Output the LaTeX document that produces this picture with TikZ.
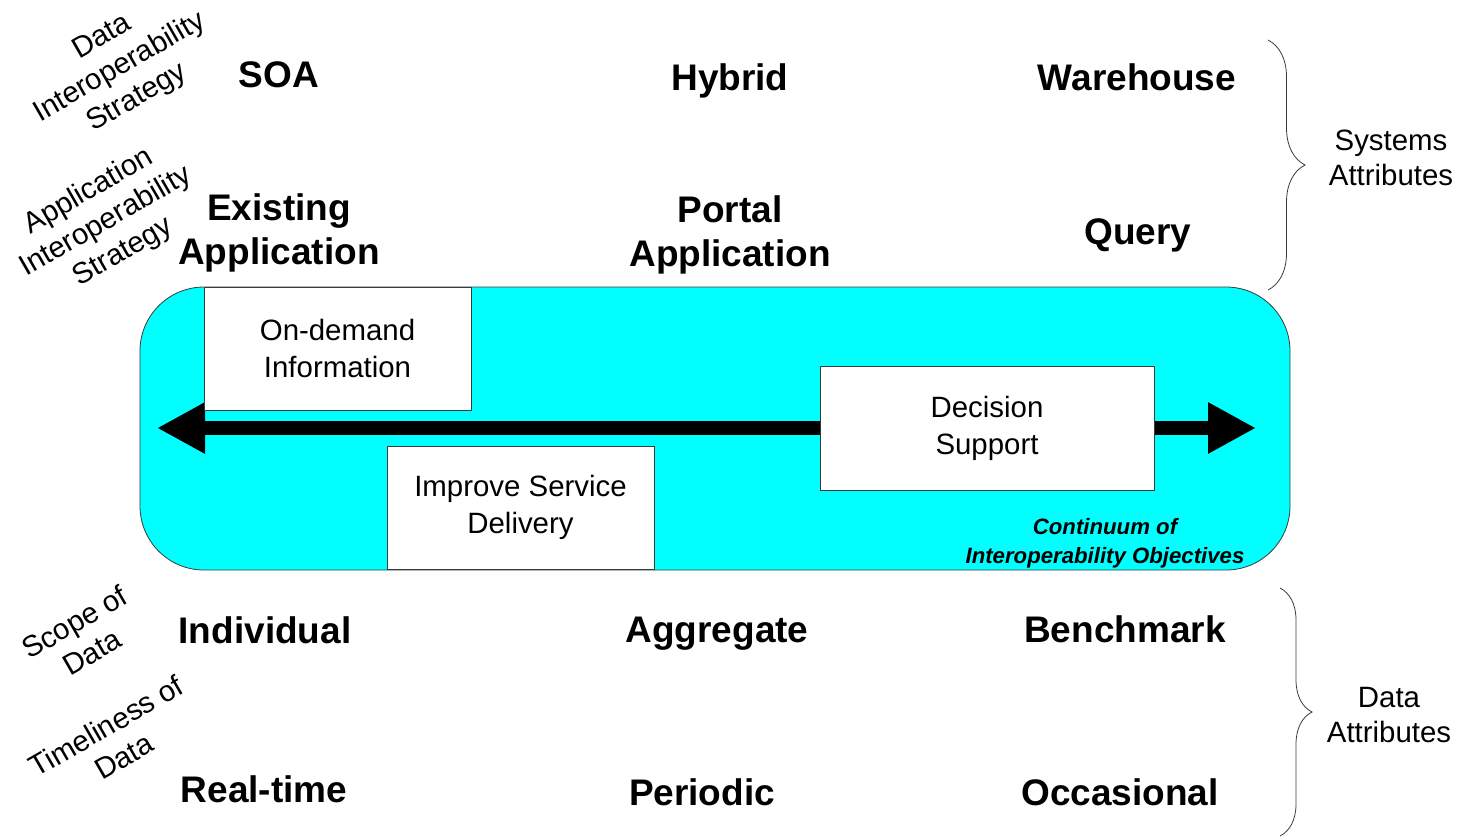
\documentclass[tikz,border=0pt]{standalone}
\usepackage{fontspec}
\setmainfont{Liberation Sans}
\usepackage{tikz}
\usetikzlibrary{arrows.meta,positioning,decorations.pathreplacing}

\definecolor{bandcyan}{HTML}{00FFFF}
\definecolor{edgegray}{HTML}{3A3A3A}

\begin{document}
\begin{tikzpicture}[x=0.5pt, y=-0.5pt,
    attr/.style={align=center, font=\fontsize{18.5}{22}\selectfont\bfseries},
    side/.style={align=center, rotate=30, font=\fontsize{14.7}{17.5}\selectfont},
    objbox/.style={draw=edgegray, fill=white, align=center, font=\fontsize{14.7}{18.5}\selectfont},
    group/.style={align=center, font=\fontsize{14.7}{17.5}\selectfont},
    curly/.style={draw=edgegray, thin, decorate, decoration={brace, amplitude=#1}}]
        \useasboundingbox (0,0) rectangle (1459,836);

        % Row labels on the left
        \node[side] (datastrat) at (120,68) {Data\\Interoperability\\Strategy};
        \node[side] (appstrat) at (106,222) {Application\\Interoperability\\Strategy};
        \node[side] (scope) at (83,637) {Scope of\\Data};
        \node[side] (timeliness) at (115,741) {Timeliness of\\Data};

        % System attributes
        \node[attr] (soa) at (279,75) {SOA};
        \node[attr] (hybrid) at (730,81) {Hybrid};
        \node[attr] (warehouse) at (1137,77) {Warehouse};
        \node[attr] (existing) at (279,233) {Existing\\Application};
        \node[attr] (portal) at (730,235) {Portal\\Application};
        \node[attr] (query) at (1138,235) {Query};

        % Continuum band
        \node[draw=edgegray, fill=bandcyan, rounded corners=32pt,
              minimum width=575pt, minimum height=141.5pt] (band) at (715,428.5) {};
        \coordinate (west) at (157,428);
        \coordinate (east) at (1256,428);
        \draw[line width=7pt, {Triangle[length=24pt,width=24pt]}-{Triangle[length=24pt,width=24pt]}] (west) -- (east);

        % Objectives
        \node[objbox, minimum width=133.5pt, minimum height=61.5pt] (ondemand) at (337.5,348.5) {On-demand\\Information};
        \node[objbox, minimum width=133.5pt, minimum height=61.5pt] (service) at (520.5,507.5) {Improve Service\\Delivery};
        \node[objbox, minimum width=167pt, minimum height=62pt] (decision) at (987,428) {Decision\\Support};
        \node[align=center, font=\fontsize{11.1}{14.5}\selectfont\bfseries\itshape] (continuum) at (1105,543)
            {Continuum of\\Interoperability Objectives};

        % Data attributes
        \node[attr] (individual) at (265,630) {Individual};
        \node[attr] (aggregate) at (717,634) {Aggregate};
        \node[attr] (benchmark) at (1125,629) {Benchmark};
        \node[attr] (realtime) at (264,789) {Real-time};
        \node[attr] (periodic) at (702,792) {Periodic};
        \node[attr] (occasional) at (1120,792) {Occasional};

        % Braces
        \coordinate (systop) at (1268,40);
        \coordinate (sysbot) at (1268,290);
        \draw[curly=18.5pt] (systop) -- (sysbot);
        \node[group] (systems) at (1391,158) {Systems\\Attributes};
        \coordinate (datatop) at (1280,588);
        \coordinate (databot) at (1280,836);
        \draw[curly=16pt] (datatop) -- (databot);
        \node[group] (dataattr) at (1389,715) {Data\\Attributes};
    \end{tikzpicture}
\end{document}
